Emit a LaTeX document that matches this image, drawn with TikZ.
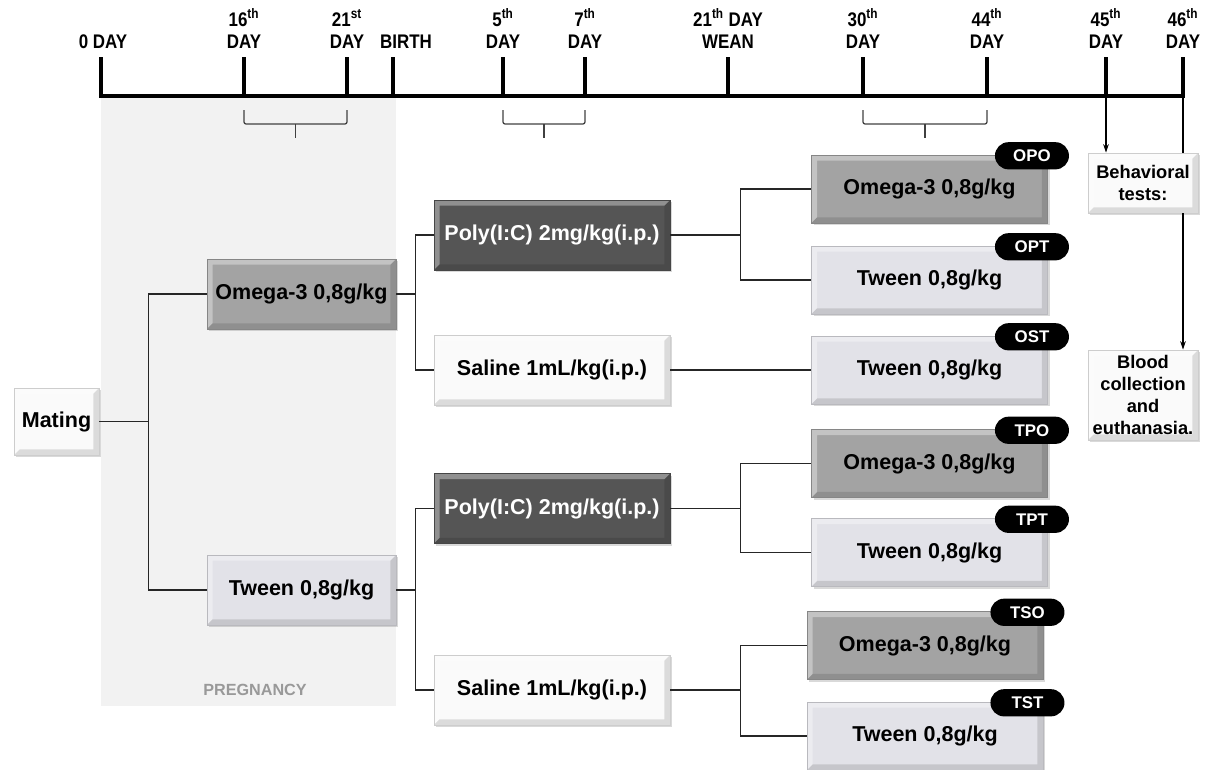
\documentclass[tikz,border=0pt]{standalone}
\usepackage{fontspec}
\setmainfont{Liberation Sans}
\newfontfamily\narrowfont[FakeStretch=0.86]{Liberation Sans}
\usetikzlibrary{arrows.meta,shadows,calc,positioning}
\definecolor{omegagray}{RGB}{163,163,163}
\definecolor{tweengray}{RGB}{226,226,232}
\definecolor{polygray}{RGB}{85,85,85}
\definecolor{salinewhite}{RGB}{250,250,250}
\definecolor{pregbg}{RGB}{242,242,242}
\tikzset{
  bevel/.style={path picture={
    \fill[white,opacity=0.35] (path picture bounding box.south west) -- (path picture bounding box.north west)
      -- (path picture bounding box.north east) -- ([shift={(-4pt,-4pt)}]path picture bounding box.north east)
      -- ([shift={(4pt,-4pt)}]path picture bounding box.north west) -- ([shift={(4pt,4pt)}]path picture bounding box.south west) -- cycle;
    \fill[black,opacity=0.12] (path picture bounding box.south west) -- (path picture bounding box.south east)
      -- (path picture bounding box.north east) -- ([shift={(-4pt,-4pt)}]path picture bounding box.north east)
      -- ([shift={(-4pt,4pt)}]path picture bounding box.south east) -- ([shift={(4pt,4pt)}]path picture bounding box.south west) -- cycle;
  }},
  box/.style={draw=#1!82!black,fill=#1,line width=0.6pt,align=center,inner sep=2pt,bevel,
    font=\fontsize{15.3}{17}\selectfont\bfseries,
    drop shadow={opacity=0.3,shadow xshift=1.5pt,shadow yshift=-1.5pt}},
  lvA/.style={minimum width=4.725cm,minimum height=1.75cm},
  lvB/.style={minimum width=5.9cm,minimum height=1.75cm},
  lvC/.style={minimum width=5.9cm,minimum height=1.7cm},
  sidebox/.style={box=salinewhite,minimum width=2.75cm,font=\fontsize{13}{15.6}\selectfont\bfseries},
  badge/.style={fill=black,text=white,rounded corners=0.34cm,minimum width=1.85cm,minimum height=0.68cm,
    inner sep=0pt,font=\fontsize{12}{12}\selectfont\bfseries},
  daylab/.style={anchor=south,inner sep=0pt,align=center,font=\narrowfont\fontsize{14}{16}\selectfont\bfseries},
  axis/.style={line width=2.2pt},
  bracket/.style={line width=0.9pt,black!75,rounded corners=1.5pt},
  link/.style={line width=1pt,black!85},
  flow/.style={line width=0.8pt,-{Stealth[length=6pt,width=4pt]}}
}
\begin{document}
\begin{tikzpicture}[x=0.025cm,y=-0.025cm]
\useasboundingbox (0,0) rectangle (1220,769);
% pregnancy
\fill[pregbg] (101,96) rectangle (396,706);
\node[text=black!40,font=\fontsize{11.5}{12}\selectfont\bfseries] (preg) at (255,690) {PREGNANCY};
% timeline
\foreach \x/\dx/\n/\lab in {101/2/t0/{0 DAY},244/0/t16/{16\textsuperscript{th}\\DAY},347/0/t21/{21\textsuperscript{st}\\DAY},
  393/13/tb/{BIRTH},503/0/t5/{5\textsuperscript{th}\\DAY},585/0/t7/{7\textsuperscript{th}\\DAY},
  728/0/tw/{21\textsuperscript{th} DAY\\WEAN},863/0/t30/{30\textsuperscript{th}\\DAY},987/0/t44/{44\textsuperscript{th}\\DAY},
  1106/0/t45/{45\textsuperscript{th}\\DAY},1183/0/t46/{46\textsuperscript{th}\\DAY}}{
  \coordinate (\n) at (\x,96);
  \draw[axis] (\n) -- ++(0,-39) coordinate (\n top);
  \node[daylab] (\n lab) at ([xshift=\dx*0.025cm,yshift=0.2cm]\n top) {\lab};
}
\draw[axis,line cap=rect] (t0) -- (t46);
\foreach \a/\b in {t16/t21,t5/t7,t30/t44}{
  \draw[bracket] ([yshift=-0.35cm]\a) -- ([yshift=-0.7cm]\a) -- ([yshift=-0.7cm]\b) -- ([yshift=-0.35cm]\b);
  \draw[bracket] ($([yshift=-0.7cm]\a)!0.5!([yshift=-0.7cm]\b)$) -- ++(0,14);
}
% boxes
\node[box=salinewhite,minimum width=2.125cm,minimum height=1.675cm] (mating) at (56.5,421.5) {Mating};
\node[box=omegagray,lvA] (om1) at (301.5,294) {Omega-3 0,8g/kg};
\node[box=tweengray,lvA] (tw1) at (301.5,590) {Tween 0,8g/kg};
\node[box=polygray,lvB,text=white] (poly1) at (552,235) {Poly(I:C) 2mg/kg(i.p.)};
\node[box=salinewhite,lvB] (sal1) at (552,370) {Saline 1mL/kg(i.p.)};
\node[box=polygray,lvB,text=white] (poly2) at (552,508.5) {Poly(I:C) 2mg/kg(i.p.)};
\node[box=salinewhite,lvB] (sal2) at (552,690) {Saline 1mL/kg(i.p.)};
\node[box=omegagray,lvC] (opo) at (929.5,189) {Omega-3 0,8g/kg};
\node[box=tweengray,lvC] (opt) at (929.5,280) {Tween 0,8g/kg};
\node[box=tweengray,lvC] (ost) at (929.5,370) {Tween 0,8g/kg};
\node[box=omegagray,lvC] (tpo) at (929.5,463.5) {Omega-3 0,8g/kg};
\node[box=tweengray,lvC] (tpt) at (929.5,552.5) {Tween 0,8g/kg};
\node[box=omegagray,lvC] (tso) at (925,645.5) {Omega-3 0,8g/kg};
\node[box=tweengray,lvC] (tst) at (925,736) {Tween 0,8g/kg};
\foreach \g/\t in {opo/OPO,opt/OPT,ost/OST,tpo/TPO,tpt/TPT,tso/TSO,tst/TST}
  \node[badge] (\g tag) at ([xshift=-0.4cm,yshift=-0.03cm]\g.north east) {\t};
\node[sidebox,minimum height=1.5cm] (behav) at (1143,183) {Behavioral\\tests:};
\node[sidebox,minimum height=2.25cm] (blood) at (1143,395) {Blood\\collection\\and\\euthanasia.};
% links
\draw[link] (mating.east) -- ++(49,0) |- (om1.west);
\draw[link] (mating.east) -- ++(49,0) |- (tw1.west);
\draw[link] (om1.east) -- ++(19,0) |- (poly1.west);
\draw[link] (om1.east) -- ++(19,0) |- (sal1.west);
\draw[link] (tw1.east) -- ++(19,0) |- (poly2.west);
\draw[link] (tw1.east) -- ++(19,0) |- (sal2.west);
\draw[link] (poly1.east) -- ++(70,0) |- (opo.west);
\draw[link] (poly1.east) -- ++(70,0) |- (opt.west);
\draw[link] (sal1.east) -- (ost.west);
\draw[link] (poly2.east) -- ++(70,0) |- (tpo.west);
\draw[link] (poly2.east) -- ++(70,0) |- (tpt.west);
\draw[link,line width=1.6pt] (sal2.east) -- ++(70,0);
\draw[link] ([xshift=1.75cm]sal2.east) |- (tso.west);
\draw[link] ([xshift=1.75cm]sal2.east) |- (tst.west);
% 45th / 46th day
\draw[flow] (t45) -- (t45 |- behav.north);
\draw[line width=0.8pt] (t46) -- (t46 |- behav.north);
\draw[flow] (t46 |- behav.south) -- (t46 |- blood.north);
\end{tikzpicture}
\end{document}
